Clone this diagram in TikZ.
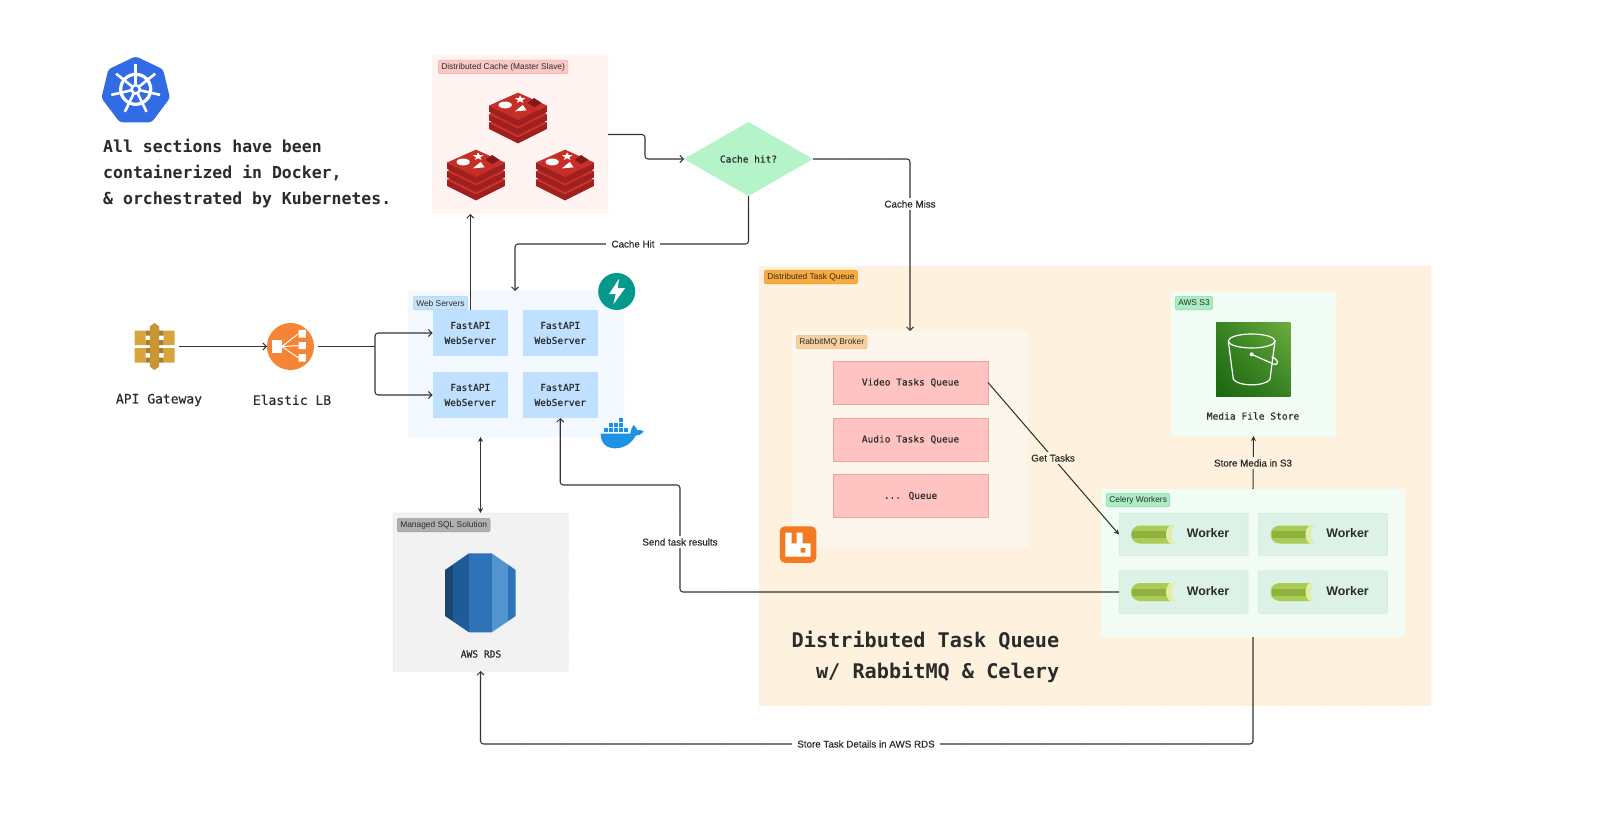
\documentclass[tikz,border=0pt]{standalone}
\usepackage{fontspec}
\setmainfont{Liberation Sans}
\newfontfamily\monof[FakeBold=0.3]{DejaVu Sans Mono}
\newfontfamily\monob[FakeBold=0.4]{DejaVu Sans Mono}
\newfontfamily\monoc{DejaVu Sans Mono Bold}
\newfontfamily\sansb[FakeBold=0.4]{Liberation Sans}
\newfontfamily\sansc{Liberation Sans Bold}
\usetikzlibrary{arrows.meta,shapes.geometric,calc,shadings}
\definecolor{ink}{HTML}{2B2B2B}
\definecolor{wire}{HTML}{333333}
\definecolor{worker}{HTML}{DCF2E6}
\definecolor{qbg}{HTML}{FEF1DE}
\definecolor{sthree}{RGB}{27,102,15}
\definecolor{sthreeb}{RGB}{108,174,62}
\definecolor{sthreec}{RGB}{55,130,35}
\tikzset{
  panel/.style={draw=none,inner sep=0,outer sep=0,rounded corners=1pt},
  tag/.style={rounded corners=2pt,line width=.5pt,anchor=north west,inner xsep=3pt,inner ysep=0,minimum height=13.5pt,
     text=ink,font=\fontsize{8.4}{9}\selectfont},
  boxed/.style={inner sep=0,outer sep=0,align=center,text=ink,font=\monof\fontsize{9.5}{15}\selectfont},
  mono/.style={text=ink,inner sep=0,font=\monob\fontsize{13}{15}\selectfont},
  monosm/.style={text=ink,inner sep=0,font=\monob\fontsize{9.6}{12}\selectfont},
  edgelabel/.style={text=ink,inner xsep=5pt,inner ysep=2pt,font=\sansb\fontsize{9.8}{11}\selectfont},
  conn/.style={draw=wire,line width=1.05pt,rounded corners=3pt,-{Straight Barb[length=3.5pt,width=7pt,line width=1pt]}},
  connf/.style={draw=wire,line width=1.05pt,-{Stealth[length=5pt,width=5pt]}},
  plain/.style={draw=wire,line width=1.05pt,rounded corners=3pt},
  anchorbox/.style={inner sep=0,outer sep=0},
}
\newcommand{\redisicon}[2]{%
\begin{scope}[shift={(#1,#2)},x=1.07pt,y=-1.07pt]
 \foreach \dy in {16,8,0}{
  \fill[fill={rgb,255:red,160;green,32;blue,32}] (-27,-7+\dy)--(0,6.5+\dy)--(27,-7+\dy)--(27,-1+\dy)--(0,12.5+\dy)--(-27,-1+\dy)--cycle;
  \fill[fill={rgb,255:red,200;green,46;blue,40}] (0,-19+\dy)--(27,-7+\dy)--(0,6.5+\dy)--(-27,-7+\dy)--cycle;
 }
 \fill[white] (-12,-7.5) ellipse (6.2 and 3.2);
 \fill[white] (2,-16.5)--(3.3,-14)--(7,-13.7)--(4,-12)--(5,-9.5)--(2,-11)--(-1,-9.5)--(0,-12)--(-3,-13.7)--(.7,-14)--cycle;
 \fill[white] (-3,-1.5)--(8,-2.5)--(4.5,-7.5)--cycle;
 \fill[fill={rgb,255:red,130;green,25;blue,25}] (9,-9.5)--(15,-14)--(22,-9.5)--(15,-5.5)--cycle;
\end{scope}}
\newcommand{\celeryicon}[2]{%
\begin{scope}[shift={(#1,#2)}]
 \fill[fill={rgb,255:red,170;green,203;blue,85}] (9,-9) -- (42,-9) -- (42,9) -- (9,9) arc (90:270:9) -- cycle;
 \fill[fill={rgb,255:red,143;green,178;blue,62}] (1,-3.5) rectangle (38,3.5);
 \fill[fill={rgb,255:red,226;green,238;blue,165}] (41,0) ellipse (6 and 9.5);
 \fill[worker] (44.5,0) ellipse (4 and 8);
\end{scope}}
\begin{document}
\begin{tikzpicture}[x=1pt,y=-1pt,line cap=butt]
\useasboundingbox (0,0) rectangle (1600,826);
\fill[white] (0,0) rectangle (1600,826);
% dot grid
\foreach \yy in {10,20,...,820}{
  \draw[draw={rgb,255:red,232;green,232;blue,232},line width=1pt,dash pattern=on 1pt off 9pt] (9,\yy)--(1600,\yy);
}
% panels
\node[panel,fill=qbg,minimum width=672pt,minimum height=440pt] (dtqbox) at (1095,486) {};
\node[panel,fill={rgb,255:red,255;green,244;blue,242},minimum width=176pt,minimum height=159pt] (redisbox) at (520,134.5) {};
\node[panel,fill={rgb,255:red,244;green,249;blue,255},minimum width=216pt,minimum height=146pt] (webbox) at (516,364) {};
\node[panel,fill={rgb,255:red,242;green,242;blue,242},draw={rgb,255:red,228;green,228;blue,228},line width=.5pt,minimum width=175pt,minimum height=158pt] (sqlbox) at (480.5,592) {};
\node[panel,fill={rgb,255:red,253;green,246;blue,236},minimum width=236pt,minimum height=216pt] (rabbitbox) at (910,439) {};
\node[panel,fill={rgb,255:red,241;green,252;blue,244},minimum width=165pt,minimum height=144pt] (s3box) at (1253.5,364) {};
\node[panel,fill={rgb,255:red,241;green,252;blue,244},minimum width=304pt,minimum height=148pt] (celerybox) at (1253,563) {};
% tags
\node[tag,fill={rgb,255:red,251;green,201;blue,197},draw={rgb,255:red,240;green,170;blue,166}] (redistag) at (438,60) {Distributed Cache (Master Slave)};
\node[tag,fill={rgb,255:red,197;green,226;blue,251},draw={rgb,255:red,169;green,208;blue,243}] (webtag) at (413,296) {Web Servers};
\node[tag,fill={rgb,255:red,176;green,176;blue,176},draw={rgb,255:red,155;green,155;blue,155}] (sqltag) at (397,518) {Managed SQL Solution};
\node[tag,fill={rgb,255:red,249;green,170;blue,60},draw={rgb,255:red,240;green,155;blue,45}] (dtqtag) at (764,270) {Distributed Task Queue};
\node[tag,fill={rgb,255:red,247;green,208;blue,160},draw={rgb,255:red,237;green,191;blue,133}] (rabbittag) at (796,335) {RabbitMQ Broker};
\node[tag,fill={rgb,255:red,171;green,236;blue,194},draw={rgb,255:red,141;green,220;blue,170}] (s3tag) at (1175,296) {AWS S3};
\node[tag,fill={rgb,255:red,171;green,236;blue,194},draw={rgb,255:red,141;green,220;blue,170}] (celerytag) at (1106,493) {Celery Workers};
% fastapi boxes
\foreach \n/\cx/\cy in {fastone/470.25/333,fasttwo/560.25/333,fastthree/470.25/395,fastfour/560.25/395}{
  \node[boxed,fill={rgb,255:red,191;green,224;blue,255},minimum width=75.5pt,minimum height=46pt] (\n) at (\cx,\cy) {FastAPI\\WebServer};
}
% queues
\tikzset{queuebox/.style={boxed,fill={rgb,255:red,255;green,196;blue,193},draw={rgb,255:red,234;green,165;blue,163},line width=.5pt,minimum width=155pt,minimum height=43pt}}
\node[queuebox] (qvideo) at (910.5,382.5) {Video Tasks Queue};
\node[queuebox] (qaudio) at (910.5,439.5) {Audio Tasks Queue};
\node[queuebox] (qmore) at (910.5,496) {... Queue};
% workers
\foreach \n/\cx/\cy in {workerone/1183.5/534.5,workertwo/1323/534.5,workerthree/1183.5/592,workerfour/1323/592}{
  \node[panel,fill=worker,draw={rgb,255:red,207;green,232;blue,218},line width=.5pt,minimum width=129pt,minimum height=42.5pt] (\n) at (\cx,\cy) {};
  \celeryicon{\cx-52.5}{\cy}
  \node[inner sep=0,text=ink,font=\sansc\fontsize{12.4}{15}\selectfont] (\n text) at (\cx+24.5,\cy-1) {Worker};
}
% decision
\node[diamond,aspect=1.74,fill={rgb,255:red,180;green,244;blue,200},inner sep=0,outer sep=0,minimum width=129pt,minimum height=74pt] (hit) at (748.5,159) {};
\node[boxed,font=\monob\fontsize{9.5}{12}\selectfont] (hittext) at (748.5,159) {Cache hit?};
% kubernetes
\begin{scope}[shift={(135.7,89.3)}]
 \fill[fill={rgb,255:red,50;green,108;blue,229},rounded corners=3pt] (0,-33)--(27.3,-20)--(34.3,8.7)--(16,33)--(-16,33)--(-34.3,8.7)--(-27.3,-20)--cycle;
 \draw[white,line width=3.2pt] (0,0) circle (15);
 \foreach \a in {90,141.4,192.9,244.3,295.7,347.1,38.6}{
   \draw[white,line width=2.6pt] (0,0) -- (\a:-25);
 }
 \fill[white] (0,0) circle (5.5);
 \fill[fill={rgb,255:red,50;green,108;blue,229}] (0,0) circle (2.6);
\end{scope}
\node[anchor=west,align=left,inner sep=0,text=ink,font=\monoc\fontsize{16.5}{26}\selectfont] (note) at (103,174) {All sections have been\\containerized in Docker,\\\& orchestrated by Kubernetes.};
% redis icons
\redisicon{518}{113}
\redisicon{476}{170}
\redisicon{565}{170}
% api gateway
\node[anchorbox,minimum width=42pt,minimum height=47pt] (api) at (154.5,346.5) {};
\begin{scope}[shift={(154.5,346.5)}]
 \fill[fill={rgb,255:red,216;green,165;blue,60}] (-20,-16) rectangle (-9,-1.5) (-20,1.5) rectangle (-9,16);
 \fill[fill={rgb,255:red,216;green,165;blue,60}] (9,-16) rectangle (20,-1.5) (9,1.5) rectangle (20,16);
 \fill[fill={rgb,255:red,170;green,125;blue,40}] (-9,-16) rectangle (-4.5,-11) (-9,-6.5) rectangle (-4.5,-1.5) (-9,1.5) rectangle (-4.5,6.5) (-9,11) rectangle (-4.5,16);
 \fill[fill={rgb,255:red,170;green,125;blue,40}] (4.5,-16) rectangle (9,-11) (4.5,-6.5) rectangle (9,-1.5) (4.5,1.5) rectangle (9,6.5) (4.5,11) rectangle (9,16);
 \fill[fill={rgb,255:red,200;green,150;blue,50}] (-4.7,-20)--(0,-23.5)--(4.7,-20)--(4.7,20)--(0,23.5)--(-4.7,20)--cycle;
\end{scope}
% elastic lb
\node[circle,fill={rgb,255:red,245;green,133;blue,52},inner sep=0,outer sep=0,minimum size=47pt] (elb) at (290.5,346.5) {};
\begin{scope}[shift={(290.5,346.5)}]
 \fill[white] (-18.7,-6.5) rectangle (-8.7,6);
 \fill[white] (8,-16.7) rectangle (15.3,-9) (8,-4.3) rectangle (15.3,2.7) (8,7.7) rectangle (15.3,15);
 \draw[white,line width=1pt] (-8.7,0)--(8,-12.8) (-8.7,0)--(8,-.8) (-8.7,0)--(8,11.3);
\end{scope}
% fastapi logo
\node[circle,fill={rgb,255:red,5;green,153;blue,139},inner sep=0,outer sep=0,minimum size=37pt] (fastlogo) at (616.7,291.5) {};
\fill[white,shift={(616.7,291.5)}] (2.3,-12.7)--(-7.7,2.7)--(-1,2.7)--(-3.3,12.7)--(8.3,-3.3)--(1,-3.3)--cycle;
% docker
\begin{scope}[shift={(595,265)},x=.3333pt,y=-.3333pt]
 \fill[fill={rgb,255:red,29;green,145;blue,229}] (17,506)--(106,506) .. controls (108,492) and (112,485) .. (116,480) .. controls (122,486) and (125,490) .. (127,496) .. controls (134,494) and (140,495) .. (146,499) .. controls (138,509) and (130,512) .. (122,512) .. controls (110,535) and (88,550) .. (60,550) .. controls (32,550) and (17,532) .. (17,506) -- cycle;
 \foreach \xx in {28,43,58,73,88}{\fill[fill={rgb,255:red,29;green,145;blue,229}] (\xx,490) rectangle ++(12,12);}
 \foreach \xx in {43,58,73}{\fill[fill={rgb,255:red,29;green,145;blue,229}] (\xx,475) rectangle ++(12,12);}
 \fill[fill={rgb,255:red,29;green,145;blue,229}] (73,460) rectangle ++(12,12);
\end{scope}
% rds
\begin{scope}
 \clip (445,570)--(469,553.3)--(491.7,553.3)--(515.7,570)--(515.7,616)--(491.7,632.3)--(469,632.3)--(445,616)--cycle;
 \fill[fill={rgb,255:red,26;green,71;blue,111}] (445,550) rectangle (453.3,635);
 \fill[fill={rgb,255:red,32;green,91;blue,153}] (453.3,550) rectangle (469,635);
 \fill[fill={rgb,255:red,46;green,115;blue,184}] (469,550) rectangle (491.7,635);
 \fill[fill={rgb,255:red,82;green,148;blue,207}] (491.7,550) rectangle (507.7,635);
 \fill[fill={rgb,255:red,46;green,115;blue,184}] (507.7,550) rectangle (516,635);
\end{scope}
% s3
\shade[lower left=sthree,upper right=sthreeb,lower right=sthreec,upper left=sthreec] (1216,322) rectangle (1290.3,396.7);
\begin{scope}[shift={(1060,270)},x=.3333pt,y=-.3333pt]
 \draw[white,line width=1.2pt] (575,213) ellipse [x radius=70,y radius=21];
 \draw[white,line width=1.2pt] (505,213) -- (520,328) .. controls (535,350) and (615,350) .. (630,328) -- (645,213);
 \draw[white,line width=1.2pt] (575,253) -- (640,282) .. controls (660,288) and (655,265) .. (635,262);
 \fill[white] (575,253) circle (6);
\end{scope}
% rabbit
\node[rounded corners=5pt,fill={rgb,255:red,244;green,122;blue,32},inner sep=0,outer sep=0,minimum size=36.5pt] (rabbit) at (798,544.5) {};
\begin{scope}[shift={(740,260)},x=.3333pt,y=-.3333pt]
 \fill[white,even odd rule] (136,818)--(155,818)--(155,850)--(170,850)--(170,818)--(188,818)--(188,850)--(212,850)--(212,890)--(136,890)--cycle (182,864) rectangle (196,878);
\end{scope}
% plain texts
\node[mono] (apitext) at (159,400) {API Gateway};
\node[mono] (elbtext) at (292,400) {Elastic LB};
\node[monosm] (rdstext) at (481,654) {AWS RDS};
\node[monosm] (s3text) at (1253,416) {Media File Store};
\node[align=right,inner sep=0,text=ink,font=\monoc\fontsize{20.2}{31}\selectfont] (bigtext) at (925.5,657) {Distributed Task Queue\\w/ RabbitMQ \& Celery};
% connectors
\draw[conn] (api.east) ++(3,0) -- (elb.west);
\coordinate (lbfork) at (375,346.5);
\draw[plain,shorten <=4pt] (elb.east) -- (lbfork);
\draw[conn] (lbfork) |- (fastone.west);
\draw[conn] (lbfork) |- (fastthree.west);
\draw[conn] (fastone.north) -- (fastone.north |- redisbox.south);
\draw[conn] (redisbox.east) -- ++(37,0) |- (hit.west);
\draw[conn] (hit.east) -| (rabbitbox.north);
\coordinate (hitelbow) at (515,244);
\coordinate (hitin) at (515,291);
\draw[conn] (hit.south) |- (hitelbow) -- (hitin);
\draw[draw=wire,line width=1.05pt,{Stealth[length=5pt,width=5pt]}-{Stealth[length=5pt,width=5pt]}] (sqlbox.north) -- (sqlbox.north |- webbox.south);
\draw[connf] (qvideo.east) -- (workerone.west);
\coordinate (sendone) at (680,592);
\coordinate (sendtwo) at (680,485);
\coordinate (sendthree) at (560.25,485);
\draw[conn] (workerthree.west) -- (sendone) -- (sendtwo) -- (sendthree) -- (fastfour.south);
\draw[connf] (celerybox.north) -- (s3box.south);
\coordinate (storeelbow) at (1253,744);
\draw[conn] (celerybox.south) |- (storeelbow) -| (sqlbox.south);
% edge labels
\node[edgelabel,fill=white] (lblmiss) at (910,204) {Cache Miss};
\node[edgelabel,fill=white] (lblhit) at (633,244) {Cache Hit};
\node[edgelabel,fill=qbg] (lblget) at (1053,458) {Get Tasks};
\node[edgelabel,fill=qbg] (lblstore) at (1253,463) {Store Media in S3};
\node[edgelabel,fill=white] (lblsend) at (680,542) {Send task results};
\node[edgelabel,fill=white] (lbldetails) at (866,744) {Store Task Details in AWS RDS};
\end{tikzpicture}
\end{document}
